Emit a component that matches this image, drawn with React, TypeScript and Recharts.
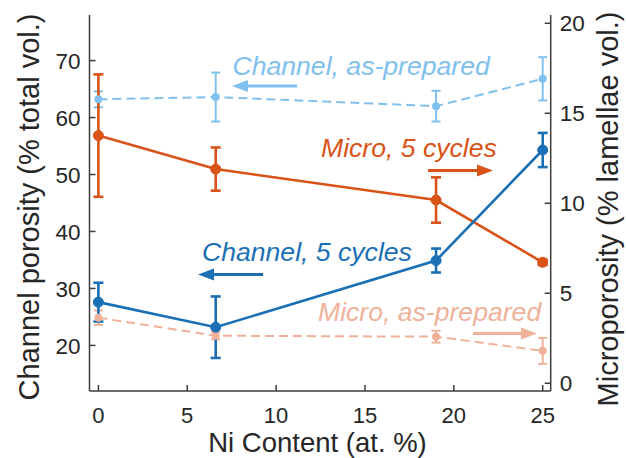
import React from 'react';
import { ComposedChart, Line, XAxis, YAxis, ErrorBar } from 'recharts';

// Ni content (at. %)
const niContent = [0, 6.6, 19, 25];

// channel porosity, left axis (% total vol.)
const channelCycled = [27.6, 23.2, 34.9, 54.3];
const channelCycledErr = [3.4, 5.4, 2.1, 3.0];
const channelPrepared = [63.2, 63.6, 62.0, 66.8];
const channelPreparedErr = [1.4, 4.3, 2.7, 3.8];

// microporosity, right axis (% lamellae vol.)
const microCycled = [13.76, 11.9, 10.18, 6.72];
const microCycledErr = [3.4, 1.2, 1.26, 0.15];
const microPrepared = [3.64, 2.64, 2.59, 1.8];
const microPreparedErr = [0.4, 0.2, 0.33, 0.72];

const xTicks = [0, 5, 10, 15, 20, 25];
const leftTicks = [20, 30, 40, 50, 60, 70];
const rightTicks = [0, 5, 10, 15, 20];

const data = niContent.map((ni, i) => ({
  ni,
  ch5: channelCycled[i],
  ch5Err: channelCycledErr[i],
  chAp: channelPrepared[i],
  chApErr: channelPreparedErr[i],
  mi5: microCycled[i],
  mi5Err: microCycledErr[i],
  miAp: microPrepared[i],
  miApErr: microPreparedErr[i],
}));

const BLUE = '#1b6fb5';
const ORANGE = '#d95319';
const LIGHT_BLUE = '#80c0ee';
const LIGHT_ORANGE = '#f0b199';
const AXIS = '#3c3c3c';
const TEXT = '#262626';
const FONT = '"Liberation Sans", Arial, sans-serif';
const TICK_LEN = 6;
const TICK_FONT = 22.5;

const LeftTick = (props: any) => {
  const { x, y, payload } = props;
  return (
    <g>
      <line x1={x + 9} x2={x + 9 + TICK_LEN} y1={y} y2={y} stroke={AXIS} strokeWidth={1.5} />
      <text x={x} y={y} dy="0.36em" textAnchor="end" fontSize={TICK_FONT} fill={TEXT} fontFamily={FONT}>
        {payload.value}
      </text>
    </g>
  );
};

const RightTick = (props: any) => {
  const { x, y, payload } = props;
  return (
    <g>
      <line x1={x - 9} x2={x - 9 - TICK_LEN} y1={y} y2={y} stroke={AXIS} strokeWidth={1.5} />
      <text x={x} y={y} dy="0.36em" textAnchor="start" fontSize={TICK_FONT} fill={TEXT} fontFamily={FONT}>
        {payload.value}
      </text>
    </g>
  );
};

const BottomTick = (props: any) => {
  const { x, y, payload } = props;
  return (
    <g>
      <line x1={x} x2={x} y1={y} y2={y - TICK_LEN} stroke={AXIS} strokeWidth={1.5} />
      <text x={x} y={y + 31.5} textAnchor="middle" fontSize={22} fill={TEXT} fontFamily={FONT}>
        {payload.value}
      </text>
    </g>
  );
};

const TopTick = (props: any) => {
  const { x, y } = props;
  return <line x1={x} x2={x} y1={y} y2={y + TICK_LEN} stroke={AXIS} strokeWidth={1.5} />;
};

const Arrow = ({ x1, x2, y, color }: { x1: number; x2: number; y: number; color: string }) => {
  const dir = Math.sign(x2 - x1);
  const base = x2 - dir * 16;
  return (
    <g>
      <line x1={x1} x2={base} y1={y} y2={y} stroke={color} strokeWidth={2.8} />
      <polygon points={`${x2},${y} ${base},${y - 6} ${base},${y + 6}`} fill={color} />
    </g>
  );
};

const notes = [
  { text: 'Channel, as-prepared', x: 232.5, y: 75, color: LIGHT_BLUE, ax1: 297, ax2: 232, ay: 86 },
  { text: 'Micro, 5 cycles', x: 321, y: 157, color: ORANGE, ax1: 428, ax2: 493, ay: 170.5 },
  { text: 'Channel, 5 cycles', x: 202, y: 261, color: BLUE, ax1: 263, ax2: 198, ay: 274.5 },
  { text: 'Micro, as-prepared', x: 318, y: 321, color: LIGHT_ORANGE, ax1: 473, ax2: 537, ay: 333.5 },
];

export default function App() {
  return (
    <div style={{ position: 'absolute', left: 0, top: 0, width: 626, height: 458, background: '#fff' }}>
      <ComposedChart width={626} height={458} data={data} margin={{ top: 15, right: 0, bottom: 0, left: 0 }}>
        <XAxis
          dataKey="ni"
          type="number"
          domain={[-0.5, 25.45]}
          ticks={xTicks}
          allowDataOverflow
          height={67}
          tickSize={0}
          tickMargin={0}
          tickLine={false}
          axisLine={{ stroke: AXIS, strokeWidth: 1.5 }}
          tick={<BottomTick />}
        />
        <XAxis
          xAxisId="top"
          orientation="top"
          dataKey="ni"
          type="number"
          domain={[-0.5, 25.45]}
          ticks={xTicks}
          allowDataOverflow
          height={0}
          tickSize={0}
          tickMargin={0}
          tickLine={false}
          axisLine={{ stroke: AXIS, strokeWidth: 1.5 }}
          tick={<TopTick />}
        />
        <YAxis
          yAxisId="left"
          orientation="left"
          type="number"
          domain={[12, 78]}
          ticks={leftTicks}
          allowDataOverflow
          width={89.5}
          tickSize={0}
          tickMargin={9}
          tickLine={false}
          axisLine={{ stroke: AXIS, strokeWidth: 1.5 }}
          tick={<LeftTick />}
        />
        <YAxis
          yAxisId="right"
          orientation="right"
          type="number"
          domain={[-0.43, 20.46]}
          ticks={rightTicks}
          allowDataOverflow
          width={75.3}
          tickSize={0}
          tickMargin={9}
          tickLine={false}
          axisLine={{ stroke: AXIS, strokeWidth: 1.5 }}
          tick={<RightTick />}
        />

        <Line
          yAxisId="left"
          dataKey="chAp"
          stroke={LIGHT_BLUE}
          strokeWidth={2}
          strokeDasharray="9 5"
          dot={{ r: 3, fill: LIGHT_BLUE, stroke: LIGHT_BLUE, strokeDasharray: '0' }}
          isAnimationActive={false}
        >
          <ErrorBar dataKey="chApErr" width={4.5} stroke={LIGHT_BLUE} strokeWidth={2} isAnimationActive={false} />
        </Line>
        <Line
          yAxisId="right"
          dataKey="miAp"
          stroke={LIGHT_ORANGE}
          strokeWidth={2}
          strokeDasharray="9 5"
          dot={{ r: 3, fill: LIGHT_ORANGE, stroke: LIGHT_ORANGE, strokeDasharray: '0' }}
          isAnimationActive={false}
        >
          <ErrorBar dataKey="miApErr" width={4.5} stroke={LIGHT_ORANGE} strokeWidth={2} isAnimationActive={false} />
        </Line>
        <Line
          yAxisId="right"
          dataKey="mi5"
          stroke={ORANGE}
          strokeWidth={2.6}
          dot={{ r: 5, fill: ORANGE, stroke: ORANGE, strokeWidth: 1 }}
          isAnimationActive={false}
        >
          <ErrorBar dataKey="mi5Err" width={5} stroke={ORANGE} strokeWidth={2.6} isAnimationActive={false} />
        </Line>
        <Line
          yAxisId="left"
          dataKey="ch5"
          stroke={BLUE}
          strokeWidth={2.6}
          dot={{ r: 5, fill: BLUE, stroke: BLUE, strokeWidth: 1 }}
          isAnimationActive={false}
        >
          <ErrorBar dataKey="ch5Err" width={5} stroke={BLUE} strokeWidth={2.6} isAnimationActive={false} />
        </Line>
      </ComposedChart>

      <svg width={626} height={458} style={{ position: 'absolute', left: 0, top: 0, pointerEvents: 'none' }}>
        {notes.map((n) => (
          <g key={n.text}>
            <text x={n.x} y={n.y} fontSize={26.6} fontStyle="italic" fill={n.color} fontFamily={FONT}>
              {n.text}
            </text>
            <Arrow x1={n.ax1} x2={n.ax2} y={n.ay} color={n.color} />
          </g>
        ))}
        <text
          transform="translate(39 207) rotate(-90)"
          textAnchor="middle"
          fontSize={29}
          fill={TEXT}
          fontFamily={FONT}
        >
          Channel porosity (% total vol.)
        </text>
        <text
          transform="translate(618 209) rotate(-90)"
          textAnchor="middle"
          fontSize={29}
          fill={TEXT}
          fontFamily={FONT}
        >
          Microporosity (% lamellae vol.)
        </text>
        <text x={317.5} y={452.2} textAnchor="middle" fontSize={27.5} fill={TEXT} fontFamily={FONT}>
          Ni Content (at. %)
        </text>
      </svg>
    </div>
  );
}
